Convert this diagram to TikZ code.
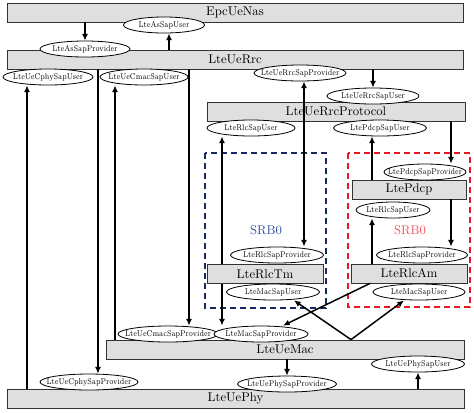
\documentclass[tikz,border=0pt]{standalone}
\usetikzlibrary{shapes.geometric, arrows.meta}

\definecolor{tmblue}{RGB}{25,40,100}
\definecolor{amred}{RGB}{230,25,35}
\definecolor{srbblue}{RGB}{50,80,160}
\definecolor{srbred}{RGB}{240,80,95}

% text of a service access point, narrow and not widening its ellipse
\newcommand{\sapname}[1]{\makebox[0pt]{\scalebox{0.8}[1]{#1}}}

\begin{document}
\begin{tikzpicture}[x=0.75pt, y=-0.75pt,
    module/.style={draw=black!80, line width=0.6pt, fill=gray!25, rectangle, minimum height=14.25pt, inner sep=0pt, font=\fontsize{9.5}{11}\selectfont},
    sap/.style={draw, ellipse, fill=white, line width=0.6pt, inner sep=0pt, minimum height=12pt, minimum width=#1, font=\fontsize{6.3}{7}\selectfont},
    link/.style={-{Latex[length=5pt,width=4.5pt]}, line width=1.1pt},
    srbframe/.style={dash pattern=on 4.5pt off 3pt, line width=1.1pt}]

    \useasboundingbox (0,0) rectangle (474,412);

    % Define the radio bearer frames
    \draw[srbframe, draw=tmblue] (205,153) rectangle (326,308);
    \draw[srbframe, draw=amred] (348,153) rectangle (470,307);
    \node[text=srbblue, font=\fontsize{9.5}{11}\selectfont] (srbtm) at (266,230) {SRB0};
    \node[text=srbred, font=\fontsize{9.5}{11}\selectfont] (srbam) at (410,230) {SRB0};

    % Define the modules (boxes)
    \node[module, minimum width=342pt] (nas) at (235,12.5) {EpcUeNas};
    \node[module, minimum width=342pt] (rrc) at (235,59.5) {LteUeRrc};
    \node[module, minimum width=193.5pt] (proto) at (336,111.5) {LteUeRrcProtocol};
    \node[module, minimum width=85.5pt] (pdcp) at (409,189.5) {LtePdcp};
    \node[module, minimum width=87pt] (tm) at (265,274) {LteRlcTm};
    \node[module, minimum width=87pt] (am) at (409,273.5) {LteRlcAm};
    \node[module, minimum width=268.5pt] (mac) at (285,349.5) {LteUeMac};
    \node[module, minimum width=342.75pt] (phy) at (235.5,398.5) {LteUePhy};

    % Define the service access points (ellipses)
    \node[sap=60.75pt] (asusr) at (164,25) {\sapname{LteAsSapUser}};
    \node[sap=67.5pt] (asprov) at (85,49) {\sapname{LteAsSapProvider}};
    \node[sap=67.5pt] (cphyusr) at (48,77) {\sapname{LteUeCphySapUser}};
    \node[sap=66pt] (cmacusr) at (144,77) {\sapname{LteUeCmacSapUser}};
    \node[sap=69pt] (rrcprov) at (300,73) {\sapname{LteUeRrcSapProvider}};
    \node[sap=69pt] (rrcusr) at (373,96) {\sapname{LteUeRrcSapUser}};
    \node[sap=66pt] (rlcusrtm) at (251,128) {\sapname{LteRlcSapUser}};
    \node[sap=69.75pt] (pdcpusr) at (380,128) {\sapname{LtePdcpSapUser}};
    \node[sap=61.5pt] (pdcpprov) at (425,172) {\sapname{LtePdcpSapProvider}};
    \node[sap=55.5pt] (rlcusram) at (393,210) {\sapname{LteRlcSapUser}};
    \node[sap=69.75pt] (rlcprovtm) at (277,255) {\sapname{LteRlcSapProvider}};
    \node[sap=68.25pt] (rlcprovam) at (422,255) {\sapname{LteRlcSapProvider}};
    \node[sap=69.75pt] (macusrtm) at (273,292) {\sapname{LteMacSapUser}};
    \node[sap=69pt] (macusram) at (419,292) {\sapname{LteMacSapUser}};
    \node[sap=75pt] (cmacprov) at (168,334) {\sapname{LteUeCmacSapProvider}};
    \node[sap=70.5pt] (macprov) at (261,334) {\sapname{LteMacSapProvider}};
    \node[sap=69.75pt] (phyusr) at (418,364) {\sapname{LteUePhySapUser}};
    \node[sap=73.5pt] (cphyprov) at (89,382) {\sapname{LteUeCphySapProvider}};
    \node[sap=74.25pt] (phyprov) at (287,384) {\sapname{LteUePhySapProvider}};

    % Define the connections
    \draw[link] (nas.south -| asprov) -- (asprov);
    \draw[link] (rrc.north -| 169,0) -- (asusr.south -| 169,0);
    \draw[link] (phy.north -| 27,0) -- (cphyusr.south -| 27,0);
    \draw[link] (rrc.south -| 98,0) -- (cphyprov.north -| 98,0);
    \draw[link] (mac.north -| 115,0) -- (cmacusr.south -| 115,0);
    \draw[link] (rrc.south -| 189,0) -- (cmacprov.north -| 189,0);
    \draw[link] (proto.south -| 304,0) -- (rrcprov.south -| 304,0); % crosses the box
    \draw[link] (rrc.south -| rrcusr) -- (rrcusr);
    \draw[link] (proto.north -| 304,0) -- (rlcprovtm.north -| 304,0);
    \draw[link] (proto.south -| 451,0) -- (pdcpprov.north -| 451,0);
    \draw[link] (pdcp.north -| 372,0) -- (pdcpusr.south -| 372,0);
    \draw[link] (pdcp.south -| 451,0) -- (rlcprovam.north -| 451,0);
    \draw[link] (am.north -| 372,0) -- (rlcusram.south -| 372,0);
    \draw[link] (tm.north -| 222,0) -- (rlcusrtm.south -| 222,0);
    \draw[link] (tm.south -| 222,0) -- (macprov.north -| 222,0);
    \draw[link] (am.south -| 370,0) -- (macprov.north -| 283,0);
    \draw[link] (mac.north -| 351,0) -- (macusrtm.south -| 294,0);
    \draw[link] (mac.north -| 351,0) -- (macusram.south -| 404,0);
    \draw[link] (mac.south -| phyprov) -- (phyprov);
    \draw[link] (phy.north -| phyusr) -- (phyusr);
\end{tikzpicture}
\end{document}
